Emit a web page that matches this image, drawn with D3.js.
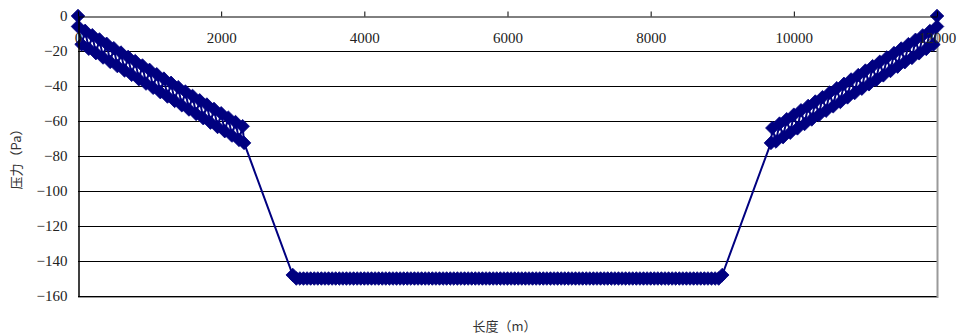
<!DOCTYPE html>
<html>
<head>
<meta charset="utf-8">
<script src="https://cdn.jsdelivr.net/npm/d3@7"></script>
<style>
  html, body { margin: 0; padding: 0; background: #fff; }
  svg { display: block; }
  .num text { font-family: 'Liberation Serif', 'DejaVu Serif', serif; font-size: 15px; fill: #222; }
</style>
</head>
<body>
<svg id="chart" width="957" height="336"></svg>
<script>
// ---- data ----
const xTicks = [0, 2000, 4000, 6000, 8000, 10000, 12000];
const yTicks = [0, -20, -40, -60, -80, -100, -120, -140, -160];
const xTitle = "长度（m）";
const yTitle = "压力（Pa）";

const leftLength = [0, 0, 50, 100, 150, 200, 250, 300, 350, 400, 450, 500, 550, 600, 650, 700, 750,
  800, 850, 900, 950, 1000, 1050, 1100, 1150, 1200, 1250, 1300, 1350, 1400, 1450, 1500, 1550, 1600,
  1650, 1700, 1750, 1800, 1850, 1900, 1950, 2000, 2050, 2100, 2150, 2200, 2250, 2300, 2320];
const leftPressure = [0, -6.0, -16.2, -8.5, -18.7, -11.0, -21.2, -13.4, -23.7, -15.9, -26.2, -18.4, -28.6,
  -20.9, -31.1, -23.4, -33.6, -25.8, -36.1, -28.3, -38.6, -30.8, -41.0, -33.3, -43.5, -35.8, -46.0,
  -38.2, -48.5, -40.7, -51.0, -43.2, -53.4, -45.7, -55.9, -48.2, -58.4, -50.6, -60.9, -53.1, -63.4,
  -55.6, -65.8, -58.1, -68.3, -60.6, -70.8, -63.0, -72.5];

const midLength = [
  3000, 3050, 3100, 3150, 3200, 3250, 3300, 3350, 3400, 3450,
  3500, 3550, 3600, 3650, 3700, 3750, 3800, 3850, 3900, 3950,
  4000, 4050, 4100, 4150, 4200, 4250, 4300, 4350, 4400, 4450,
  4500, 4550, 4600, 4650, 4700, 4750, 4800, 4850, 4900, 4950,
  5000, 5050, 5100, 5150, 5200, 5250, 5300, 5350, 5400, 5450,
  5500, 5550, 5600, 5650, 5700, 5750, 5800, 5850, 5900, 5950,
  6000, 6050, 6100, 6150, 6200, 6250, 6300, 6350, 6400, 6450,
  6500, 6550, 6600, 6650, 6700, 6750, 6800, 6850, 6900, 6950,
  7000, 7050, 7100, 7150, 7200, 7250, 7300, 7350, 7400, 7450,
  7500, 7550, 7600, 7650, 7700, 7750, 7800, 7850, 7900, 7950,
  8000, 8050, 8100, 8150, 8200, 8250, 8300, 8350, 8400, 8450,
  8500, 8550, 8600, 8650, 8700, 8750, 8800, 8850, 8900, 8950,
  9000];
const midPressure = [
  -148, -150, -150, -150, -150, -150, -150, -150, -150, -150,
  -150, -150, -150, -150, -150, -150, -150, -150, -150, -150,
  -150, -150, -150, -150, -150, -150, -150, -150, -150, -150,
  -150, -150, -150, -150, -150, -150, -150, -150, -150, -150,
  -150, -150, -150, -150, -150, -150, -150, -150, -150, -150,
  -150, -150, -150, -150, -150, -150, -150, -150, -150, -150,
  -150, -150, -150, -150, -150, -150, -150, -150, -150, -150,
  -150, -150, -150, -150, -150, -150, -150, -150, -150, -150,
  -150, -150, -150, -150, -150, -150, -150, -150, -150, -150,
  -150, -150, -150, -150, -150, -150, -150, -150, -150, -150,
  -150, -150, -150, -150, -150, -150, -150, -150, -150, -150,
  -150, -150, -150, -150, -150, -150, -150, -150, -150, -150,
  -148];

const rightLength = [9680, 9700, 9750, 9800, 9850, 9900, 9950, 10000, 10050, 10100, 10150, 10200,
  10250, 10300, 10350, 10400, 10450, 10500, 10550, 10600, 10650, 10700, 10750, 10800, 10850, 10900,
  10950, 11000, 11050, 11100, 11150, 11200, 11250, 11300, 11350, 11400, 11450, 11500, 11550, 11600,
  11650, 11700, 11750, 11800, 11850, 11900, 11950, 12000, 12000];
const rightPressure = [-72.5, -64.0, -71.7, -61.5, -69.2, -59.0, -66.7, -56.4, -64.2, -53.9, -61.7, -51.4,
  -59.1, -48.9, -56.6, -46.4, -54.1, -43.8, -51.6, -41.3, -49.1, -38.8, -46.5, -36.3, -44.0, -33.8,
  -41.5, -31.2, -39.0, -28.7, -36.5, -26.2, -33.9, -23.7, -31.4, -21.2, -28.9, -18.6, -26.4, -16.1,
  -23.9, -13.6, -21.3, -11.1, -18.8, -8.6, -16.3, -6.0, 0];

// ---- build series ----
const lengths = leftLength.concat(midLength, rightLength);
const pressures = leftPressure.concat(midPressure, rightPressure);
const points = lengths.map((x, i) => ({ x, y: pressures[i] }));

// ---- layout ----
const svg = d3.select("#chart");
const plot = { left: 78, right: 937, top: 16, bottom: 296 };

const x = d3.scaleLinear().domain([0, 12000]).range([plot.left, plot.right]);
const y = d3.scaleLinear().domain([-160, 0]).range([plot.bottom, plot.top]);

const cjkFont = "'Noto Sans CJK SC', 'Noto Sans CJK JP', sans-serif";

// gridlines
svg.append("g")
  .selectAll("line")
  .data(yTicks.filter(d => d !== 0 && d !== -160))
  .join("line")
  .attr("x1", plot.left).attr("x2", plot.right)
  .attr("y1", d => Math.round(y(d)) + 0.5).attr("y2", d => Math.round(y(d)) + 0.5)
  .attr("stroke", "#000").attr("stroke-width", 1);

// plot frame (bottom / right in gray)
svg.append("line")
  .attr("x1", plot.left).attr("x2", plot.right + 1)
  .attr("y1", plot.bottom + 0.5).attr("y2", plot.bottom + 0.5)
  .attr("stroke", "#000").attr("stroke-width", 1);
svg.append("line")
  .attr("x1", plot.left).attr("x2", plot.right + 1)
  .attr("y1", plot.bottom + 1.5).attr("y2", plot.bottom + 1.5)
  .attr("stroke", "#9a9a9a").attr("stroke-width", 1);
svg.append("line")
  .attr("x1", plot.right + 0.5).attr("x2", plot.right + 0.5)
  .attr("y1", plot.top).attr("y2", plot.bottom + 2)
  .attr("stroke", "#9a9a9a").attr("stroke-width", 2);

// series line
svg.append("path")
  .datum(points)
  .attr("fill", "none")
  .attr("stroke", "#000080")
  .attr("stroke-width", 2)
  .attr("stroke-linejoin", "round")
  .attr("d", d3.line().x(d => x(d.x)).y(d => y(d.y)));

// diamond markers
const diamond = "M0,-6.8L6.8,0L0,6.8L-6.8,0Z";
svg.append("g")
  .selectAll("path")
  .data(points)
  .join("path")
  .attr("d", diamond)
  .attr("transform", d => `translate(${x(d.x)},${y(d.y)})`)
  .attr("fill", "#000080")
  .attr("stroke", "#000080")
  .attr("stroke-width", 0.8);

// x axis along y = 0 (ticks upward, labels below)
const xAxis = svg.append("g")
  .attr("class", "num")
  .attr("transform", `translate(0,${Math.round(y(0)) + 0.5})`)
  .call(d3.axisBottom(x).tickValues(xTicks).tickSizeInner(-5).tickSizeOuter(0).tickPadding(16)
    .tickFormat(d3.format("d")));
xAxis.attr("font-family", null).attr("font-size", null);
xAxis.select(".domain").attr("stroke", "#000");
xAxis.selectAll(".tick line").attr("stroke", "#000");

// y axis
const yAxis = svg.append("g")
  .attr("class", "num")
  .attr("transform", `translate(${plot.left + 0.5},0)`)
  .call(d3.axisLeft(y).tickValues(yTicks).tickSize(0).tickPadding(11));
yAxis.attr("font-family", null).attr("font-size", null);
yAxis.select(".domain").attr("stroke", "#000").attr("stroke-width", 1.5);

// axis titles
svg.append("text")
  .attr("x", (plot.left + plot.right) / 2 - 3)
  .attr("y", 331)
  .attr("text-anchor", "middle")
  .attr("font-family", cjkFont).attr("font-size", 13).attr("fill", "#333")
  .text(xTitle);

svg.append("text")
  .attr("transform", `translate(21,${(plot.top + plot.bottom) / 2}) rotate(-90)`)
  .attr("text-anchor", "middle")
  .attr("font-family", cjkFont).attr("font-size", 13).attr("fill", "#333")
  .text(yTitle);
</script>
</body>
</html>
